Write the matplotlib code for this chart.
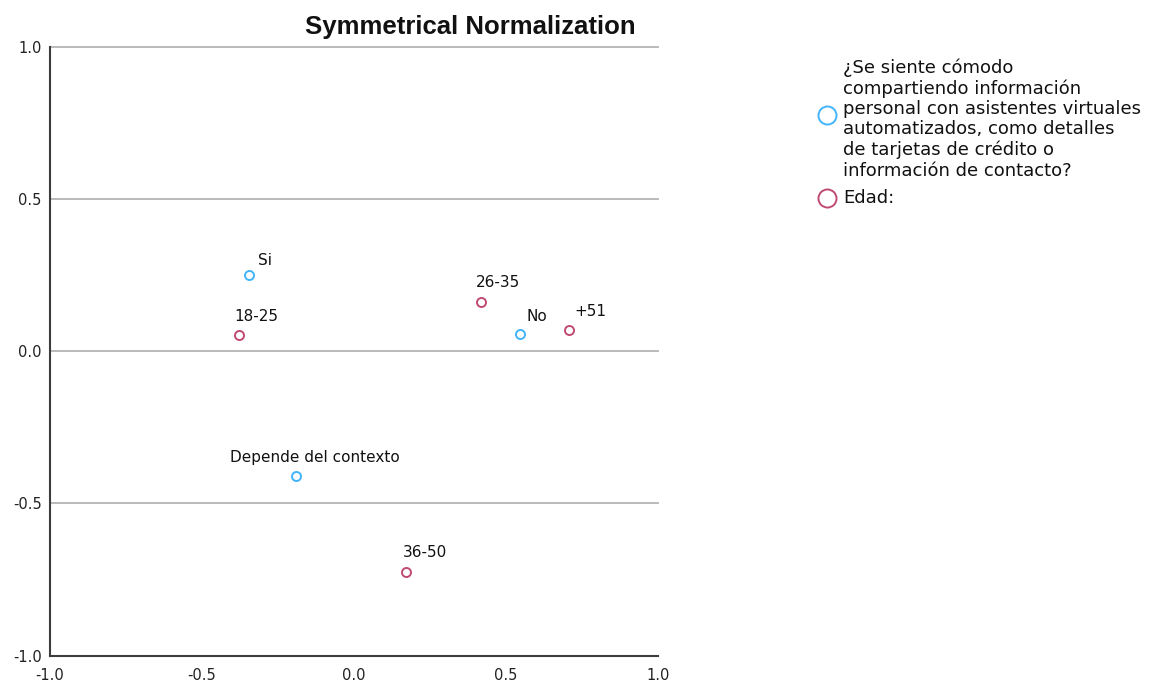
import matplotlib
matplotlib.use('Agg')
import matplotlib.pyplot as plt
from matplotlib.lines import Line2D

# ---- data ----
q_labels = ["Si", "No", "Depende del contexto"]
q_x = [-0.344, 0.546, -0.190]
q_y = [0.251, 0.057, -0.410]

age_labels = ["18-25", "26-35", "36-50", "+51"]
age_x = [-0.379, 0.417, 0.170, 0.706]
age_y = [0.054, 0.162, -0.726, 0.071]

ticks = [-1.0, -0.5, 0.0, 0.5, 1.0]
tick_labels = ["-1.0", "-0.5", "0.0", "0.5", "1.0"]

legend_q = ("¿Se siente cómodo\ncompartiendo información\npersonal con asistentes virtuales\n"
            "automatizados, como detalles\nde tarjetas de crédito o\ninformación de contacto?")
legend_age = "Edad:"
title = "Symmetrical Normalization"

# ---- style ----
BLUE = '#42B4FA'
RED = '#C04A74'
label_offsets = {"Si": (9, 14), "No": (7, 17), "Depende del contexto": (-66, 19),
                 "18-25": (-4, 18), "26-35": (-5, 19), "36-50": (-3, 20), "+51": (6, 18)}

plt.rcParams['font.family'] = ['DejaVu Sans']
W, H = 1155, 685
fig = plt.figure(figsize=(W / 100, H / 100), dpi=100)
ax = fig.add_axes([50 / W, 1 - 655.7 / H, (658 - 50) / W, (655.7 - 46.7) / H])

ax.set_xlim(-1, 1)
ax.set_ylim(-1, 1)
ax.set_xticks(ticks)
ax.set_xticklabels(tick_labels)
ax.set_yticks(ticks)
ax.set_yticklabels(tick_labels)
ax.tick_params(length=0, labelsize=10.5, colors='#222222')
ax.tick_params(axis='y', pad=6)
ax.tick_params(axis='x', pad=9)
ax.yaxis.grid(True, color='#b4b4b4', lw=1.3)
ax.set_axisbelow(True)
for gl in ax.get_ygridlines():
    gl.set_clip_on(False)
for s in ['top', 'right']:
    ax.spines[s].set_visible(False)
for s in ['left', 'bottom']:
    ax.spines[s].set_color('#3c3c3c')
    ax.spines[s].set_linewidth(1.5)

ax.plot(q_x, q_y, linestyle='none', marker='o', ms=6.5, mfc='white', mec=BLUE, mew=1.4, zorder=3)
ax.plot(age_x, age_y, linestyle='none', marker='o', ms=6.5, mfc='white', mec=RED, mew=1.4, zorder=3)

for lab, x, y in list(zip(q_labels, q_x, q_y)) + list(zip(age_labels, age_x, age_y)):
    dx, dy = label_offsets[lab]
    ax.annotate(lab, (x, y), xytext=(dx, dy), textcoords='offset pixels',
                ha='left', va='center', fontsize=11, color='#111111')

fig.text(470 / W, 1 - 27 / H, title, ha='center', va='center', fontsize=18.5,
         fontweight='bold', family='Liberation Sans', color='#111111')

# legend
for (lbl, col, yy, ty) in [(legend_q, BLUE, 115, 119), (legend_age, RED, 198, 198)]:
    fig.add_artist(Line2D([827 / W], [1 - yy / H], transform=fig.transFigure, marker='o',
                          ms=13, mfc='white', mec=col, mew=1.4, linestyle='none'))
    fig.text(843 / W, 1 - ty / H, lbl, ha='left', va='center', fontsize=13,
             linespacing=1.17, color='#111111')

fig.savefig('out.png', dpi=100)
